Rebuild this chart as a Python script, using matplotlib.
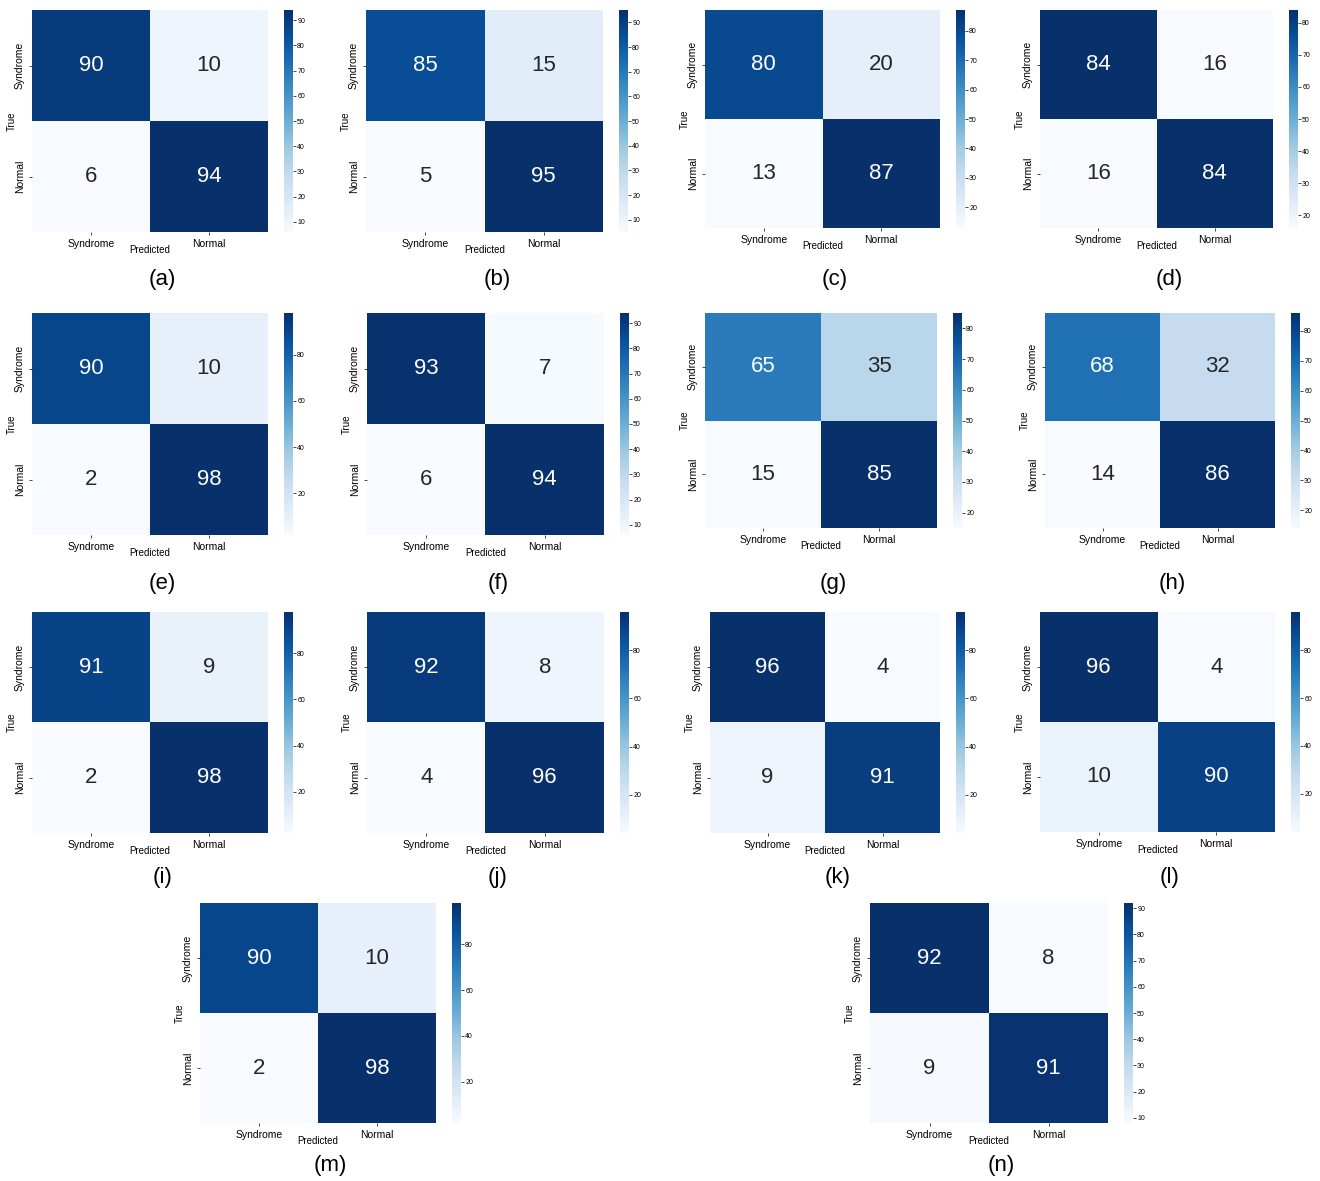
import numpy as np
import matplotlib
matplotlib.use("Agg")
import matplotlib.pyplot as plt
from matplotlib.ticker import MultipleLocator
import seaborn as sns

# Confusion matrices (rows: True Syndrome / Normal, cols: Predicted Syndrome / Normal)
panel_labels = ['(a)', '(b)', '(c)', '(d)', '(e)', '(f)', '(g)',
                '(h)', '(i)', '(j)', '(k)', '(l)', '(m)', '(n)']
tp = [90, 85, 80, 84, 90, 93, 65, 68, 91, 92, 96, 96, 90, 92]
fn = [10, 15, 20, 16, 10, 7, 35, 32, 9, 8, 4, 4, 10, 8]
fp = [6, 5, 13, 16, 2, 6, 15, 14, 2, 4, 9, 10, 2, 9]
tn = [94, 95, 87, 84, 98, 94, 85, 86, 98, 96, 91, 90, 98, 91]
cbar_steps = [10, 10, 10, 10, 20, 10, 10, 10, 20, 20, 20, 20, 20, 10]
class_names = ['Syndrome', 'Normal']

# heatmap boxes in pixels: left, right, top, bottom
boxes = [
    (32, 268, 10, 232), (366, 603, 10, 232), (705, 940, 10, 228), (1040, 1273, 10, 228),
    (32, 268, 313, 535), (367, 604, 313, 535), (705, 937, 313, 528), (1045, 1275, 313, 528),
    (32, 268, 612, 833), (367, 604, 612, 833), (710, 940, 612, 833), (1040, 1275, 612, 832),
    (200, 436, 903, 1123), (870, 1108, 903, 1123),
]
label_y = [280] * 4 + [583] * 4 + [877] * 4 + [1165] * 2

W, H = 1320, 1181
plt.rcParams['font.family'] = ['Liberation Sans', 'DejaVu Sans']
fig = plt.figure(figsize=(W / 100, H / 100), dpi=100)


def rect(l, r, t, b):
    return [l / W, 1 - b / H, (r - l) / W, (b - t) / H]


for i in range(len(panel_labels)):
    l, r, t, b = boxes[i]
    ax = fig.add_axes(rect(l, r, t, b))
    cax = fig.add_axes(rect(r + 16, r + 25, t, b))
    cm = np.array([[tp[i], fn[i]], [fp[i], tn[i]]])
    sns.heatmap(cm, annot=True, fmt='d', cmap='Blues', ax=ax, cbar_ax=cax,
                xticklabels=class_names, yticklabels=class_names,
                annot_kws={'fontsize': 16})
    ax.set_xlabel('Predicted', fontsize=7, labelpad=-3)
    ax.set_ylabel('True', fontsize=7, labelpad=-1)
    ax.tick_params(axis='both', labelsize=7.5, length=2, width=0.5, pad=3)
    cax.yaxis.set_major_locator(MultipleLocator(cbar_steps[i]))
    cax.tick_params(labelsize=5, length=2, width=0.5, pad=1)
    cax.set_frame_on(False)
    fig.text(((l + r + 25) / 2) / W, 1 - label_y[i] / H, panel_labels[i],
             ha='center', va='center', fontsize=16)

fig.savefig('out.png', dpi=100)
